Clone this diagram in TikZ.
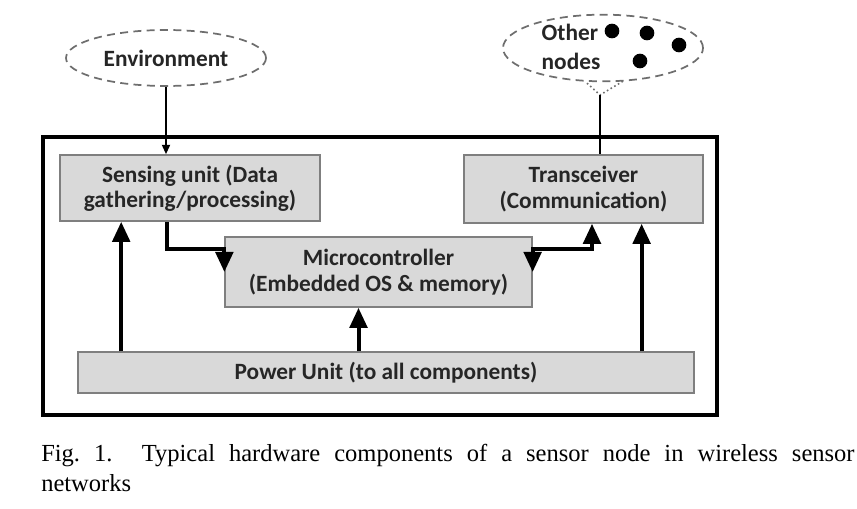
\documentclass[tikz,border=0pt]{standalone}
\usepackage{fontspec}
\setmainfont{Liberation Serif}
\newfontfamily\calfont{Carlito}
\usepackage{xcolor}
\definecolor{boxfill}{HTML}{D9D9D9}
\definecolor{boxline}{HTML}{7F7F7F}
\definecolor{boxtext}{HTML}{262626}
\definecolor{cloudline}{HTML}{6E6E6E}
\usepackage{tikz}
\usetikzlibrary{arrows.meta,calc,positioning,shapes.geometric}

\begin{document}
\begin{tikzpicture}[x=0.75pt, y=-0.75pt,
  unit/.style={draw=boxline, fill=boxfill, line width=1.2pt, text=boxtext, inner sep=0pt, font=\calfont\bfseries\fontsize{17.5}{19}\selectfont, align=center},
  dashcloud/.style={ellipse, draw=cloudline, dash pattern=on 6pt off 4pt, line width=1.3pt, text=boxtext, inner sep=0pt, font=\calfont\bfseries\fontsize{17.5}{21.5}\selectfont},
  dot/.style={circle, fill=black, minimum size=11pt, inner sep=0pt},
  arr/.style={-{Triangle[length=15pt,width=13pt]}, line width=3pt},
  twoarr/.style={{Triangle[length=15pt,width=13pt]}-{Triangle[length=15pt,width=13pt]}, line width=3pt},
  thinarr/.style={-{Triangle[length=7pt,width=6pt]}, line width=1.3pt},
  capt/.style={font=\frenchspacing\fontsize{18.4}{22.5}\selectfont, inner sep=0pt, anchor=base west}
]
  \useasboundingbox (0,0) rectangle (857,509);
  % outer frame of the node
  \draw[line width=2.3pt] (43,137) rectangle (717,415);

  \node[dashcloud, minimum width=150pt, minimum height=42pt] (env) at (166,58) {Environment};
  \node[dashcloud, minimum width=150pt, minimum height=50pt] (others) at (603,48) {};
  \node[dashcloud, draw=none, align=left] (otherslabel) at (571,47) {Other\\nodes};
  \foreach \p [count=\i] in {(612,31),(647,33),(679,45),(640,61)}
    \node[dot] (dot\i) at \p {};
  \coordinate (tail) at (600,95);

  \node[unit, minimum width=195pt, minimum height=49.5pt] (sense) at (190,188) {Sensing unit (Data\\gathering/processing)};
  \node[unit, minimum width=179pt, minimum height=51pt] (trans) at (583.5,189) {Transceiver\\(Communication)};
  \node[unit, minimum width=230pt, minimum height=52.5pt] (micro) at (378.5,272) {Microcontroller\\(Embedded OS \& memory)};
  \node[unit, minimum width=462pt, minimum height=30.5pt] (power) at (386,372.5) {Power Unit (to all components)};

  \draw[thinarr] (env.south) -- (env.south |- sense.north);
  \draw[cloudline, dotted, line width=1.2pt] ($(others.south)+(-16,1)$) -- (tail) -- ($(others.south)+(20,-1)$);
  \draw[line width=1.3pt] (tail) -- (tail |- trans.north);

  \draw[arr] ($(sense.south)+(-23,0)$) |- ($(micro.west)+(0,-23)$) -- (micro.west);
  \draw[twoarr] (micro.east) -- ($(micro.east)+(0,-23)$) -| ($(trans.south)+(8.5,0)$);
  \draw[arr] ($(power.north -| sense.west)+(62,0)$) -- ($(sense.south west)+(62,0)$);
  \draw[arr] ($(power.north -| micro.south)+(-20,0)$) -- ($(micro.south)+(-20,0)$);
  \draw[arr] ($(power.north -| trans.east)+(-62,0)$) -- ($(trans.south east)+(-62,0)$);

  \node[capt] (capline1) at (41,462) {\makebox[610pt][s]{Fig. 1.\hspace{22pt}Typical hardware components of a sensor node in wireless sensor}};
  \node[capt] (capline2) at (41,492) {networks};
\end{tikzpicture}
\end{document}
